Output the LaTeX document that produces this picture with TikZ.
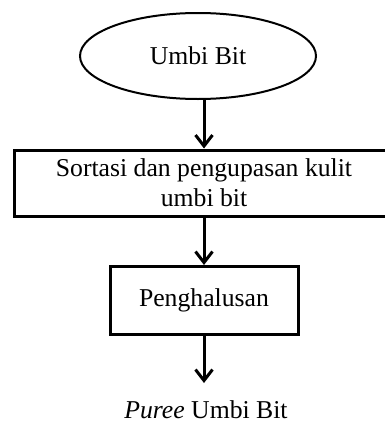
\documentclass[tikz,border=0pt]{standalone}
\usepackage{fontspec}
\setmainfont{Liberation Serif}
\usetikzlibrary{arrows.meta,positioning,shapes.geometric}

\begin{document}
\begin{tikzpicture}[
  x=1pt, y=-1pt,
  font=\fontsize{25.7pt}{31pt}\selectfont,
  oval/.style={draw, ellipse, line width=2pt, inner sep=0pt,
               minimum width=236pt, minimum height=86pt},
  proc/.style={draw, line width=3pt, inner sep=0pt, align=center},
  flow/.style={-{Straight Barb[length=11pt,width=17pt]}, line width=3pt}
]
  \useasboundingbox (0,0) rectangle (384,431);
  \node[oval] (bit) at (198,56) {Umbi Bit};
  \node[proc, minimum width=380pt, minimum height=66pt] (sortasi) at (204,183)
    {Sortasi dan pengupasan kulit\\[-1pt] umbi bit};
  \node[proc, minimum width=188pt, minimum height=68pt] (halus) at (204,300.5)
    {Penghalusan};
  \coordinate (ujung) at (204,383);
  \node (puree) at (206,410) {\textit{Puree} Umbi Bit};
  \draw[flow] (bit.south -| sortasi.north) -- (sortasi.north);
  \draw[flow] (sortasi.south) -- (halus.north);
  \draw[flow] (halus.south) -- (ujung);
\end{tikzpicture}
\end{document}
